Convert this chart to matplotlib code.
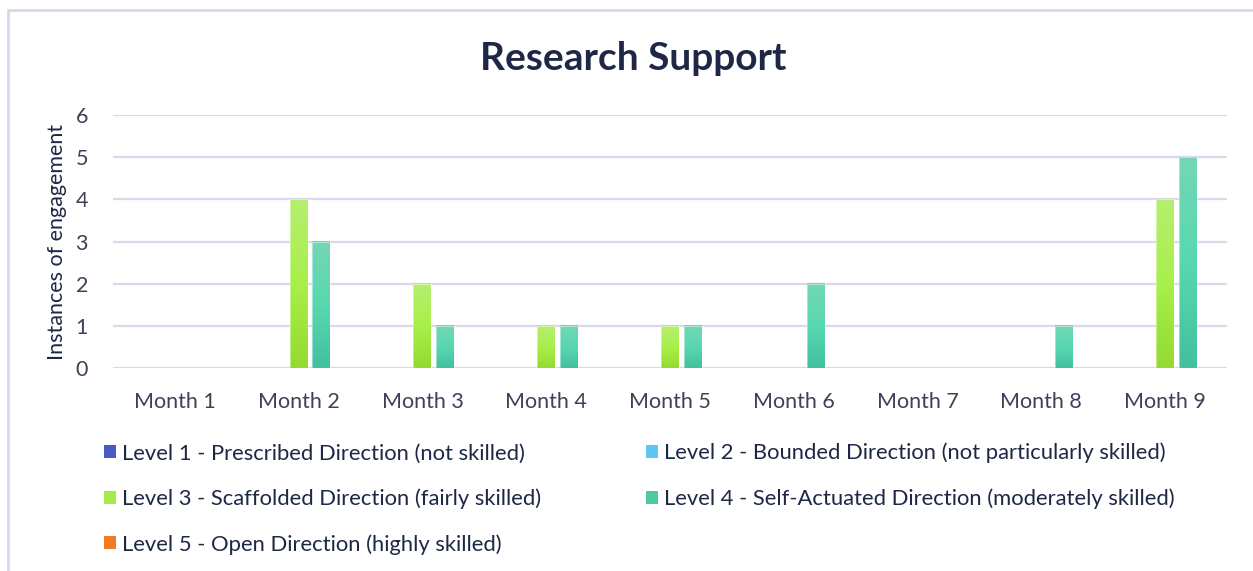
import matplotlib
matplotlib.use('Agg')
import matplotlib.pyplot as plt
from matplotlib.patches import Rectangle, Patch
import numpy as np

plt.rcParams['font.family'] = ['Lato', 'DejaVu Sans']

months = ['Month 1', 'Month 2', 'Month 3', 'Month 4', 'Month 5',
          'Month 6', 'Month 7', 'Month 8', 'Month 9']
level1 = [0, 0, 0, 0, 0, 0, 0, 0, 0]
level2 = [0, 0, 0, 0, 0, 0, 0, 0, 0]
level3 = [0, 4, 2, 1, 1, 0, 0, 0, 4]
level4 = [0, 3, 1, 1, 1, 2, 0, 1, 5]
level5 = [0, 0, 0, 0, 0, 0, 0, 0, 0]
series_names = [
    'Level 1 - Prescribed Direction (not skilled)',
    'Level 2 - Bounded Direction (not particularly skilled)',
    'Level 3 - Scaffolded Direction (fairly skilled)',
    'Level 4 - Self-Actuated Direction (moderately skilled)',
    'Level 5 - Open Direction (highly skilled)',
]

series = [level1, level2, level3, level4, level5]
base_colours = ['#4a5bc6', '#5cc8f2', '#a6ea48', '#4fc9a2', '#f37a22']
# top / middle / bottom shades for the gradient fill
gradients = [
    ['#6a7ad4', '#4a5bc6', '#3b4bb0'],
    ['#86d8f6', '#5cc8f2', '#3fb4e0'],
    ['#b6ee70', '#a8f04a', '#94da30'],
    ['#74d6b6', '#58d8b0', '#43c09e'],
    ['#f7a060', '#f37a22', '#e06a10'],
]

text_col = '#404058'
title_col = '#1e2846'
grid_col = '#d9d9ea'

fig = plt.figure(figsize=(12.53, 5.71), dpi=100)

# outer frame, cut by the image edge on the right and bottom
fig.patches.append(Rectangle((8 / 1253, -0.05), 1.1, 1 - 10 / 571 + 0.05,
                             transform=fig.transFigure, fill=False,
                             edgecolor='#d6d9ea', lw=2))

ax = fig.add_axes([113 / 1253, 203 / 571, 1114 / 1253, 253 / 571])

x = np.arange(len(months))
step = 0.182
width = 0.145


def hex2rgb(h):
    h = h.lstrip('#')
    return np.array([int(h[i:i + 2], 16) for i in (0, 2, 4)]) / 255.0


for i, vals in enumerate(series):
    bars = ax.bar(x + (i - 2) * step, vals, width, color=base_colours[i], zorder=2)
    top, mid, bot = [hex2rgb(c) for c in gradients[i]]
    t = np.linspace(0, 1, 64)[:, None]
    grad = np.where(t < 0.5, top + (mid - top) * (t / 0.5),
                    mid + (bot - mid) * ((t - 0.5) / 0.5))
    img = grad[:, None, :]
    for b in bars:
        h = b.get_height()
        if h <= 0:
            continue
        b.set_alpha(0)
        ax.imshow(img, extent=(b.get_x(), b.get_x() + b.get_width(), 0, h),
                  aspect='auto', zorder=3, interpolation='bilinear')
        ax.add_patch(Rectangle((b.get_x(), 0), b.get_width(), h, fill=False,
                               edgecolor='white', lw=0.6, alpha=0.5, zorder=4))

ax.set_xlim(-0.5, len(months) - 0.5)
ax.set_ylim(0, 6)
ax.set_yticks(range(0, 7))
ax.set_xticks(x)
ax.set_xticklabels(months)
ax.yaxis.grid(True, color=grid_col, lw=1.6, zorder=0)
ax.set_axisbelow(True)
for s in ax.spines.values():
    s.set_visible(False)
ax.tick_params(length=0, colors=text_col, labelsize=15.5)
ax.tick_params(axis='x', pad=17)
ax.tick_params(axis='y', pad=18)
ax.set_ylabel('Instances of engagement', fontsize=15.5, color=title_col, labelpad=6)

fig.text(633 / 1253, 1 - 59 / 571, 'Research Support', ha='center', va='center',
         fontsize=28, fontweight='bold', color=title_col)

handles = [Patch(facecolor=c, edgecolor='none') for c in base_colours]
order = [0, 2, 4, 1, 3]
leg = fig.legend([handles[k] for k in order], [series_names[k] for k in order],
                 ncol=2, loc='upper left', bbox_to_anchor=(95 / 1253, 1 - 434 / 571),
                 frameon=False, fontsize=15.8, labelcolor=title_col,
                 handlelength=0.55, handleheight=0.55, handletextpad=0.3,
                 labelspacing=1.14, columnspacing=4.75, borderaxespad=0)

fig.savefig('out.png', dpi=100)
